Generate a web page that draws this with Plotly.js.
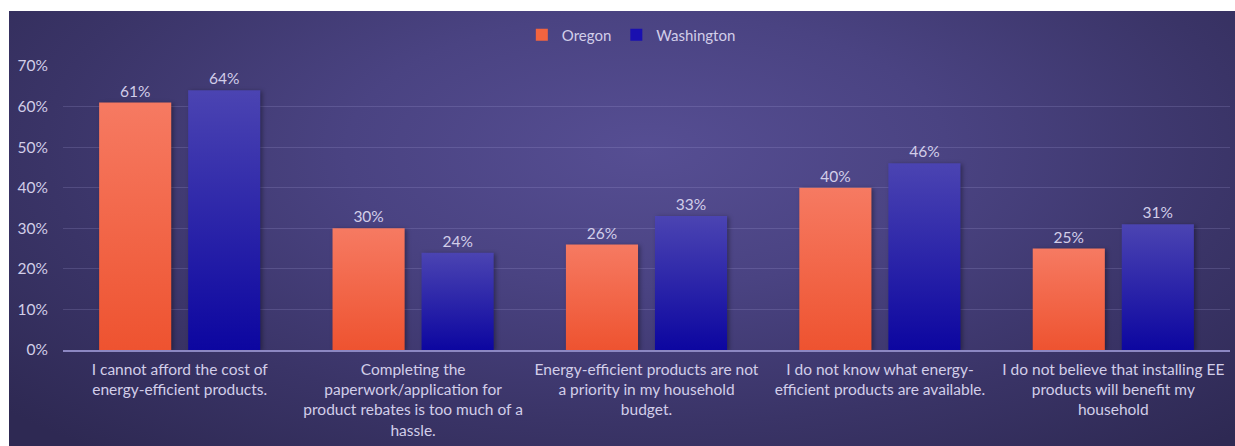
<!DOCTYPE html>
<html>
<head>
<meta charset="utf-8">
<script src="https://cdn.plot.ly/plotly-3.0.1.min.js"></script>
<style>
  html, body { margin: 0; padding: 0; background: #ffffff; width: 1235px; height: 446px; overflow: hidden; }
  #chart {
    position: absolute; left: 9px; top: 11px; width: 1226px; height: 435px;
    background: radial-gradient(ellipse 70% 90% at 52% 32%, #564e93 0%, #4a4382 35%, #3a3467 70%, #2e2953 100%);
  }
</style>
</head>
<body>
<div id="chart"></div>
<script>
const categories = [
  "I cannot afford the cost of<br>energy-efficient products.",
  "Completing the<br>paperwork/application for<br>product rebates is too much of a<br>hassle.",
  "Energy-efficient products are not<br>a priority in my household<br>budget.",
  "I do not know what energy-<br>efficient products are available.",
  "I do not believe that installing EE<br>products will benefit my<br>household"
];
const oregon = [61, 30, 26, 40, 25];
const washington = [64, 24, 33, 46, 31];
const seriesNames = ["Oregon", "Washington"];

const textColor = "#d2cee9";
const fontFam = "Lato, 'Open Sans', sans-serif";

const traces = [
  {
    type: "bar", name: seriesNames[0], x: categories, y: oregon,
    marker: { color: "#f2643f" },
    text: oregon.map(v => v + "%"), textposition: "outside",
    textfont: { color: textColor, size: 15.5, family: fontFam },
    cliponaxis: false, hoverinfo: "none"
  },
  {
    type: "bar", name: seriesNames[1], x: categories, y: washington,
    marker: { color: "#1a10b0" },
    text: washington.map(v => v + "%"), textposition: "outside",
    textfont: { color: textColor, size: 15.5, family: fontFam },
    cliponaxis: false, hoverinfo: "none"
  }
];

const layout = {
  width: 1226, height: 435,
  paper_bgcolor: "rgba(0,0,0,0)", plot_bgcolor: "rgba(0,0,0,0)",
  margin: { l: 54, r: 5, t: 55, b: 96, autoexpand: false },
  font: { family: fontFam, color: textColor, size: 15.5 },
  barmode: "group", bargap: 0.237, bargroupgap: 0.19,
  showlegend: true,
  legend: {
    orientation: "h", x: 0.487, xanchor: "center", y: 1.109, yanchor: "middle",
    font: { size: 15, color: textColor, family: fontFam },
    itemwidth: 30, traceorder: "normal", tracegroupgap: 0
  },
  xaxis: {
    type: "category", showgrid: false, ticks: "", tickangle: 0,
    showline: true, linecolor: "#8c87c2", linewidth: 1.5,
    tickfont: { size: 15.5, color: textColor, family: fontFam },
    ticklabelstandoff: 5,
    automargin: false
  },
  yaxis: {
    range: [0, 70], dtick: 10, ticksuffix: "%",
    showgrid: true, gridcolor: "rgba(190,185,240,0.18)", gridwidth: 1,
    zeroline: false, showline: false, ticks: "", ticklabelstandoff: 14,
    tickfont: { size: 15.5, color: textColor, family: fontFam },
    automargin: false
  }
};

Plotly.newPlot("chart", traces, layout, { displayModeBar: false, staticPlot: true }).then(gd => {
  const svg = gd.querySelector("svg.main-svg");
  const NS = "http://www.w3.org/2000/svg";
  let defs = svg.querySelector("defs");
  if (!defs) { defs = document.createElementNS(NS, "defs"); svg.insertBefore(defs, svg.firstChild); }
  function addGrad(id, top, bottom) {
    const g = document.createElementNS(NS, "linearGradient");
    g.setAttribute("id", id);
    g.setAttribute("x1", "0"); g.setAttribute("y1", "0");
    g.setAttribute("x2", "0"); g.setAttribute("y2", "1");
    [[0, top], [1, bottom]].forEach(([o, c]) => {
      const s = document.createElementNS(NS, "stop");
      s.setAttribute("offset", o); s.setAttribute("stop-color", c);
      g.appendChild(s);
    });
    defs.appendChild(g);
  }
  addGrad("gradOregon", "#f67a62", "#ee5330");
  addGrad("gradWash", "#4b44b2", "#0c06a0");
  const traceGroups = gd.querySelectorAll(".barlayer .trace");
  const ids = ["gradOregon", "gradWash"];
  traceGroups.forEach((tg, i) => {
    tg.querySelectorAll(".point path").forEach(p => {
      p.style.fill = "url(#" + ids[i] + ")";
      p.style.filter = "drop-shadow(2px 1px 2px rgba(0,0,0,0.35))";
    });
  });
});
</script>
</body>
</html>
